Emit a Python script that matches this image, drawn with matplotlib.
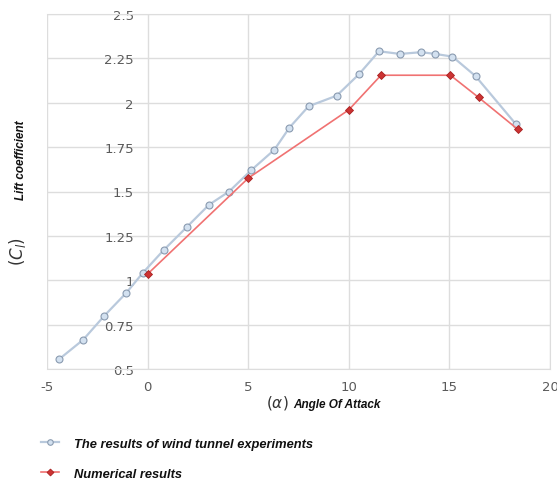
"""Lift coefficient vs angle of attack: wind tunnel vs numerical."""
import matplotlib
matplotlib.use("Agg")
import matplotlib.pyplot as plt
from matplotlib.lines import Line2D

# wind tunnel experiments
exp_alpha = [-4.4, -3.2, -2.15, -1.05, -0.25, 0.8, 1.95, 3.05, 4.05, 5.15,
             6.3, 7.05, 8.0, 9.4, 10.5, 11.5, 12.55, 13.6, 14.3, 15.15,
             16.3, 18.3]
exp_cl = [0.555, 0.665, 0.80, 0.93, 1.04, 1.17, 1.30, 1.425, 1.50, 1.62,
          1.735, 1.86, 1.98, 2.04, 2.16, 2.29, 2.275, 2.285, 2.275, 2.26,
          2.15, 1.88]

# numerical results
num_alpha = [0.0, 5.0, 10.0, 11.6, 15.05, 16.45, 18.4]
num_cl = [1.035, 1.575, 1.96, 2.155, 2.155, 2.03, 1.85]

xticks = [-5, 0, 5, 10, 15, 20]
xtick_labels = ["-5", "0", "5", "10", "15", "20"]
yticks = [0.5, 0.75, 1.0, 1.25, 1.5, 1.75, 2.0, 2.25, 2.5]
ytick_labels = ["0.5", "0.75", "1", "1.25", "1.5", "1.75", "2", "2.25", "2.5"]

blue_line = "#b9c9dc"
blue_face = "#d3e1f0"
blue_edge = "#8a9bb0"
red_line = "#f07272"
red_mark = "#cc3333"


def main():
    fig = plt.figure(figsize=(5.57, 4.81), dpi=100)
    ax = fig.add_axes([47 / 557, 1 - 370 / 481, 503 / 557, 355 / 481])

    ax.plot(exp_alpha, exp_cl, color=blue_line, lw=1.6, marker="o", ms=5,
            mfc=blue_face, mec=blue_edge, mew=0.8, zorder=3)
    ax.plot(num_alpha, num_cl, color=red_line, lw=1.2, marker="D", ms=4,
            mfc=red_mark, mec="#a82020", mew=0.6, zorder=4)

    ax.set_xlim(-5, 20)
    ax.set_ylim(0.5, 2.5)
    ax.set_xticks(xticks)
    ax.set_xticklabels(xtick_labels)
    ax.set_yticks(yticks)
    ax.set_yticklabels(ytick_labels)
    ax.grid(True, color="#dddddd", lw=1)
    for s in ax.spines.values():
        s.set_color("#dddddd")
    ax.spines["left"].set_position(("data", 0))
    ax.spines["left"].set_visible(False)
    ax.tick_params(length=0, colors="#5a5a5a", labelsize=9.5)
    ax.tick_params(axis="x", pad=8)
    ax.tick_params(axis="y", pad=10)

    lab_kw = dict(fontweight="bold", style="italic", family="Liberation Sans",
                  color="#111111", fontsize=8.5)
    # x label
    fig.text(277 / 557, 1 - 408 / 481, r"$(\alpha)$", ha="center",
             va="baseline", fontsize=11, color="#333333")
    fig.text(293 / 557, 1 - 408 / 481, "Angle Of Attack", ha="left",
             va="baseline", **lab_kw)
    # y label
    fig.text(18 / 557, 1 - 252 / 481, r"$(C_l)$", ha="center", va="center",
             rotation=90, fontsize=12, color="#333333")
    fig.text(21 / 557, 1 - 160 / 481, "Lift coefficient", ha="center",
             va="center", rotation=90, **lab_kw)

    handles = [
        Line2D([], [], color=blue_line, lw=1.6, marker="o", ms=4,
               mfc=blue_face, mec=blue_edge, mew=0.8),
        Line2D([], [], color=red_line, lw=1.2, marker="D", ms=3.5,
               mfc=red_mark, mec="#a82020", mew=0.6),
    ]
    labels = ["The results of wind tunnel experiments", "Numerical results"]
    leg = fig.legend(handles, labels, loc="upper left",
                     bbox_to_anchor=(33 / 557, 1 - 431 / 481), frameon=False,
                     handlelength=1.4, handletextpad=1.2, labelspacing=1.4,
                     borderpad=0.1,
                     prop={"family": "Liberation Sans", "weight": "bold",
                           "style": "italic", "size": 9.3})
    for t in leg.get_texts():
        t.set_color("#111111")

    fig.savefig("out.png", dpi=100)


if __name__ == "__main__":
    main()
